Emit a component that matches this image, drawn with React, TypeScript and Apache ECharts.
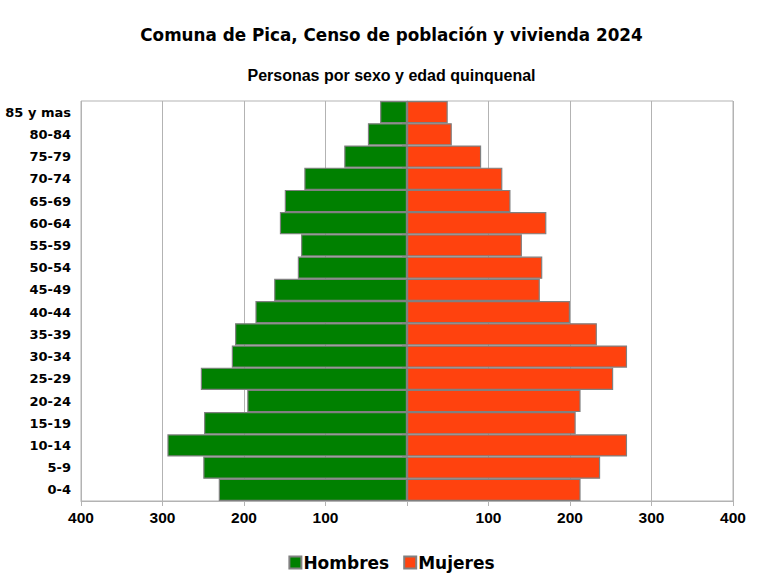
import React, { useEffect, useRef } from "react";
import * as echarts from "echarts";

const categories = ["0-4", "5-9", "10-14", "15-19", "20-24", "25-29", "30-34", "35-39", "40-44", "45-49", "50-54", "55-59", "60-64", "65-69", "70-74", "75-79", "80-84", "85 y mas"];
const hombres = [231, 250, 294, 249, 196, 253, 215, 211, 186, 163, 134, 130, 156, 150, 126, 77, 48, 33];
const mujeres = [213, 237, 270, 207, 213, 253, 270, 233, 200, 163, 166, 141, 171, 127, 117, 91, 55, 50];
const xTicks = [-400, 400, 100];

export default function App() {
  const ref = useRef<HTMLDivElement>(null);
  useEffect(() => {
    if (!ref.current) return;
    const chart = echarts.init(ref.current, null, { renderer: "svg" });
    const gray = "#b3b3b3";
    chart.setOption({
      animation: false,
      backgroundColor: "#ffffff",
      title: [
        {
          text: "Comuna de Pica, Censo de población y vivienda 2024",
          left: "center",
          top: 21,
          textStyle: { fontFamily: "DejaVu Sans", fontWeight: "bold", fontSize: 16.8, color: "#000" },
        },
        {
          text: "Personas por sexo y edad quinquenal",
          left: "center",
          top: 62,
          textStyle: { fontFamily: "Liberation Sans", fontWeight: "bold", fontSize: 16, color: "#000" },
        },
      ],
      legend: {
        bottom: 1,
        left: "center",
        icon: "rect",
        itemWidth: 12,
        itemHeight: 12,
        itemGap: 14,
        textStyle: { fontFamily: "DejaVu Sans", fontWeight: "bold", fontSize: 17, color: "#000", padding: [0, 0, 0, -3] },
        data: ["Hombres", "Mujeres"],
      },
      grid: { left: 81, right: 50, top: 101, bottom: 76, show: true, borderColor: gray, borderWidth: 1 },
      xAxis: {
        type: "value",
        min: xTicks[0],
        max: xTicks[1],
        interval: xTicks[2],
        axisLine: { show: true, lineStyle: { color: gray } },
        axisTick: { show: true, length: 5, lineStyle: { color: gray } },
        splitLine: { show: true, lineStyle: { color: gray } },
        axisLabel: {
          margin: 8,
          fontFamily: "Liberation Sans",
          fontWeight: "bold",
          fontSize: 15.5,
          color: "#000",
          formatter: (v: number) => (v === 0 ? "" : String(Math.abs(v))),
        },
      },
      yAxis: {
        type: "category",
        data: categories,
        axisLine: { show: true, lineStyle: { color: gray } },
        axisTick: { show: true, length: 5, lineStyle: { color: gray } },
        splitLine: { show: false },
        axisLabel: { margin: 10, fontFamily: "DejaVu Sans", fontWeight: "bold", fontSize: 13, color: "#000" },
      },
      series: [
        {
          name: "Hombres",
          type: "bar",
          stack: "total",
          barCategoryGap: "0%",
          data: hombres.map((v) => -v),
          itemStyle: { color: "#008000", borderColor: "#808080", borderWidth: 1.2 },
        },
        {
          name: "Mujeres",
          type: "bar",
          stack: "total",
          barCategoryGap: "0%",
          data: mujeres,
          itemStyle: { color: "#ff420e", borderColor: "#808080", borderWidth: 1.2 },
        },
      ],
    });
    return () => chart.dispose();
  }, []);
  return <div ref={ref} style={{ position: "fixed", left: 0, top: 0, width: 783, height: 577 }} />;
}
